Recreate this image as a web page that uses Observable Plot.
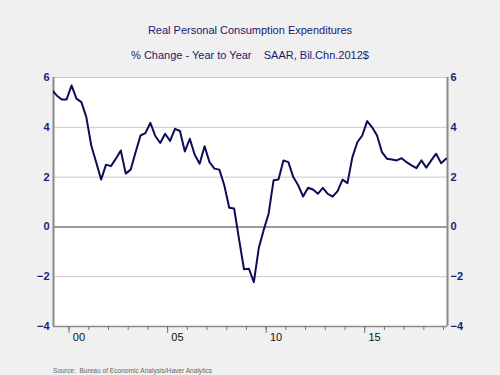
<!DOCTYPE html>
<html>
<head>
<meta charset="utf-8">
<script src="https://cdn.jsdelivr.net/npm/d3@7"></script>
<script src="https://cdn.jsdelivr.net/npm/@observablehq/plot@0.6"></script>
<style>
  html, body { margin: 0; padding: 0; background: #f0f0f0; }
  #wrap { position: relative; width: 500px; height: 375px; background: #f0f0f0; font-family: "Liberation Sans", Arial, sans-serif; overflow: hidden; }
  .t { position: absolute; left: 0; width: 500px; text-align: center; color: #1a1a6e; white-space: pre; }
  #title { top: 23px; font-size: 11px; line-height: 14px; }
  #sub { top: 48px; font-size: 11px; line-height: 14px; }
  #src { position: absolute; left: 53px; top: 367px; font-size: 6.6px; line-height: 8px; color: #666; white-space: pre; }
  #chart { position: absolute; left: 0; top: 0; }
</style>
</head>
<body>
<div id="wrap">
  <div id="chart"></div>
  <div class="t" id="title">Real Personal Consumption Expenditures</div>
  <div class="t" id="sub">% Change - Year to Year    SAAR, Bil.Chn.2012$</div>
  <div id="src">Source:  Bureau of Economic Analysis/Haver Analytics</div>
</div>
<script>
// First quarter in the series: 1999 Q1 (plotted at mid-quarter)
const startYear = 1999;
const startQuarter = 1;
// Year-over-year % change, quarterly, 1999Q1 .. 2019Q1
const pceYoY = [
  5.5, 5.28, 5.12, 5.12, 5.68, 5.15, 5.01, 4.41, 3.27, 2.6,
  1.9, 2.5, 2.44, 2.74, 3.07, 2.14, 2.3, 3.0, 3.67, 3.77,
  4.18, 3.65, 3.37, 3.74, 3.45, 3.94, 3.85, 3.03, 3.54, 2.9,
  2.54, 3.24, 2.6, 2.34, 2.3, 1.67, 0.77, 0.74, -0.5, -1.7,
  -1.68, -2.22, -0.85, -0.12, 0.53, 1.87, 1.9, 2.67, 2.6, 2.0,
  1.67, 1.22, 1.57, 1.5, 1.33, 1.57, 1.33, 1.22, 1.44, 1.9,
  1.76, 2.8, 3.4, 3.67, 4.25, 4.0, 3.67, 3.0, 2.74, 2.71,
  2.67, 2.76, 2.6, 2.47, 2.36, 2.67, 2.38, 2.67, 2.94, 2.56,
  2.74
];
const yTicks = [-4, -2, 0, 2, 4, 6];
const gridValues = [-2, 2, 4, 6];
const zeroLine = [0];
const yearTicks = d3.range(2000, 2020);
const majorYears = [2000, 2005, 2010, 2015];
const yearLabels = ["00", "05", "10", "15"];
const xDomain = [1999.21, 2019.2];
const yDomain = [-4, 6];

const data = pceYoY.map((v, i) => {
  const q = startQuarter - 1 + i;
  return { t: startYear + Math.floor(q / 4) + (q % 4) * 0.25 + 0.125, v };
});
const labelPos = majorYears.map(y => y + 0.5);
const labelMap = new Map(labelPos.map((p, i) => [p, yearLabels[i]]));

const navy = "#0c0c58";
const chart = Plot.plot({
  width: 500,
  height: 375,
  marginTop: 77,
  marginBottom: 49,
  marginLeft: 53,
  marginRight: 53,
  style: { background: "transparent", fontFamily: "'Liberation Sans', Arial, sans-serif", overflow: "visible" },
  x: { type: "linear", domain: xDomain },
  y: { domain: yDomain },
  marks: [
    Plot.frame({ fill: "white", stroke: null }),
    Plot.ruleY(gridValues, { stroke: "#c8c8c8", strokeWidth: 1 }),
    Plot.ruleY(zeroLine, { stroke: "#7a7a7a", strokeWidth: 1.5 }),
    Plot.ruleY([yDomain[0]], { stroke: "#8a8a8a", strokeWidth: 1.5 }),
    Plot.ruleX(xDomain, { stroke: "#8a8a8a", strokeWidth: 2 }),
    Plot.line(data, { x: "t", y: "v", stroke: navy, strokeWidth: 2, clip: true }),
    Plot.axisY(yTicks, { anchor: "left", tickSize: 0, tickPadding: 4, fontSize: 11, fontWeight: "bold", fill: "#1c1c80", label: null }),
    Plot.axisY(yTicks, { anchor: "right", tickSize: 0, tickPadding: 3, fontSize: 11, fontWeight: "bold", fill: "#1c1c80", label: null }),
    Plot.axisX(yearTicks, { anchor: "bottom", tickSize: 4, stroke: "#777", tickFormat: () => "", label: null }),
    Plot.axisX(majorYears, { anchor: "bottom", tickSize: 7, stroke: "#777", tickFormat: () => "", label: null }),
    Plot.axisX(labelPos, { anchor: "bottom", tickSize: 0, tickPadding: 7, fontSize: 11, fill: "#111", tickFormat: d => labelMap.get(d), label: null })
  ]
});
document.getElementById("chart").appendChild(chart);
</script>
</body>
</html>
